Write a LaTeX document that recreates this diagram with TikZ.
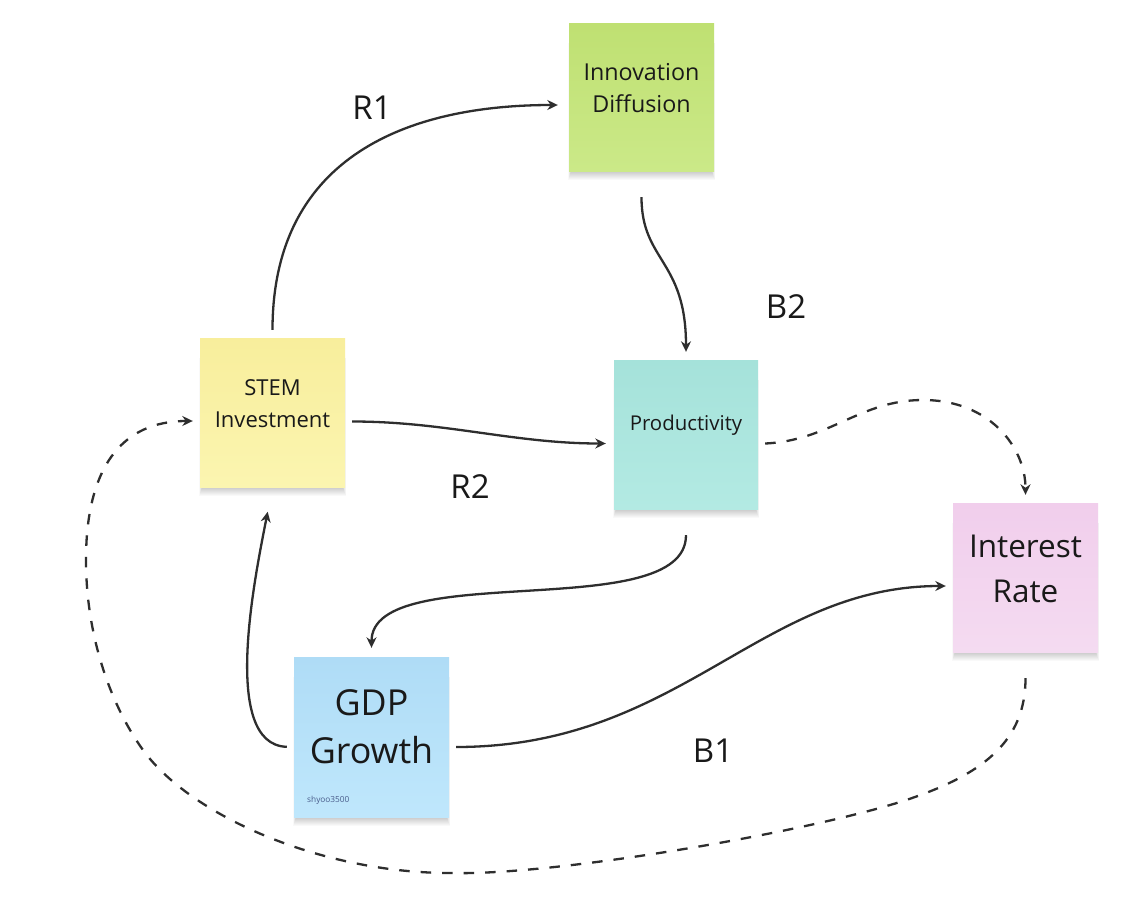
\documentclass[tikz,border=0pt]{standalone}
\usepackage{fontspec}
\setmainfont{Open Sans}
\usetikzlibrary{arrows.meta,backgrounds}
\definecolor{linec}{HTML}{2E2E2E}
\definecolor{innovTop}{HTML}{BFE072}
\definecolor{innovBot}{HTML}{CBE988}
\definecolor{stemTop}{HTML}{F8EE9C}
\definecolor{stemBot}{HTML}{FBF5B0}
\definecolor{prodTop}{HTML}{A5E2DA}
\definecolor{prodBot}{HTML}{B3EAE3}
\definecolor{intTop}{HTML}{F1CEEC}
\definecolor{intBot}{HTML}{F4DBF1}
\definecolor{gdpTop}{HTML}{AFDCF6}
\definecolor{gdpBot}{HTML}{BFE7FC}
\definecolor{signc}{HTML}{4A5C8C}
\begin{document}
\begin{tikzpicture}[x=1pt,y=-1pt,
  note/.style={minimum width=145pt, minimum height=149pt, inner sep=0pt},
  notetext/.style={align=center, text=black!90, inner sep=0pt},
  conn/.style={draw=linec, line width=2.3pt, -{Stealth[length=10.5pt,width=10pt]}},
  dconn/.style={conn, dash pattern=on 10.5pt off 11pt},
  lbl/.style={font=\fontsize{33}{33}\selectfont, text=black!90, inner sep=0pt}]
\useasboundingbox (0,0) rectangle (1125,913);

% notes
\node[note, top color=innovTop, bottom color=innovBot, minimum height=148pt] (innov) at (641.5,97) {};
\node[note, top color=stemTop, bottom color=stemBot] (stem) at (272.5,412.5) {};
\node[note, top color=prodTop, bottom color=prodBot, minimum width=144pt] (prod) at (686,434.5) {};
\node[note, top color=intTop, bottom color=intBot] (interest) at (1025.5,577.5) {};
\node[note, top color=gdpTop, bottom color=gdpBot, minimum width=155pt, minimum height=160pt] (gdp) at (371.5,737) {};

% soft shadows under the notes
\begin{scope}[on background layer]
  \fill[white] (0,0) rectangle (1125,913);
  \foreach \n in {innov,stem,prod,interest,gdp}{
    \foreach \i in {1,...,9}{
      \fill[black, opacity=0.024] ([shift={(2.5-0.35*\i,20)}]\n.north west) rectangle ([shift={(-2.5+0.35*\i,\i)}]\n.south east);
    }
  }
\end{scope}

% note texts
\node[notetext, font=\fontsize{23.3}{32.5}\selectfont] (innovT) at ([yshift=9pt]innov.center) {Innovation\\Diffusion};
\node[notetext, font=\fontsize{22}{32}\selectfont] (stemT) at ([yshift=9pt]stem.center) {STEM\\Investment};
\node[notetext, font=\fontsize{20.4}{28}\selectfont] (prodT) at ([yshift=9.5pt]prod.center) {Productivity};
\node[notetext, font=\fontsize{31.5}{45}\selectfont] (intT) at ([yshift=9pt]interest.center) {Interest\\Rate};
\node[notetext, font=\fontsize{35.8}{48}\selectfont] (gdpT) at ([yshift=10pt]gdp.center) {GDP\\Growth};
\node[anchor=west, inner sep=0pt, text=signc, font=\fontsize{8.3}{9}\selectfont] (sign) at ([shift={(-64.5,63)}]gdp.center) {shyoo3500};

% loop labels
\node[lbl] (r1) at (372,108) {R1};
\node[lbl] (b2) at (786,307) {B2};
\node[lbl] (r2) at (470,487) {R2};
\node[lbl] (b1) at (713,751) {B1};

% connectors
\coordinate (peak) at (923,400);
\draw[conn, shorten <=8pt, shorten >=11pt] (stem.north) .. controls +(0,-175) and +(-170,0) .. ([yshift=-8pt]innov.west);
\draw[conn, shorten <=26pt, shorten >=8pt] (innov.south) .. controls +(0,90) and +(0,-100) .. (prod.north);
\draw[conn, shorten <=7pt, shorten >=8pt] ([yshift=-9pt]stem.east) .. controls +(100,0) and +(-100,0) .. ([yshift=-9pt]prod.west);
\draw[dconn, shorten >=8pt] ([shift={(7,9)}]prod.east) .. controls +(65,-3) and +(-63,0) .. (peak) .. controls +(67,0) and +(0,-55) .. (interest.north);
\draw[conn, shorten <=26pt, shorten >=9pt] (prod.south) .. controls +(0,116) and +(0,-99) .. (gdp.north);
\draw[conn, shorten <=7pt, shorten >=25pt] ([yshift=-10pt]gdp.west) .. controls +(-74,-2) and +(-17,87) .. (stem.south);
\draw[conn, shorten <=7pt, shorten >=7pt] ([yshift=-10pt]gdp.east) .. controls +(231,0) and +(-193,0) .. ([yshift=-8.5pt]interest.west);
\draw[dconn, shorten <=26pt, shorten >=7pt] (interest.south) .. controls +(0,88) and (985,775) .. (900,802)
  .. controls (798,834) and (550,876) .. (450,873)
  .. controls (320,873) and (190,815) .. (143,750)
  .. controls (113,708.5) and (86,640) .. (86,560)
  .. controls (86,470) and (120,421) .. ([yshift=-8.5pt]stem.west);
\end{tikzpicture}
\end{document}
